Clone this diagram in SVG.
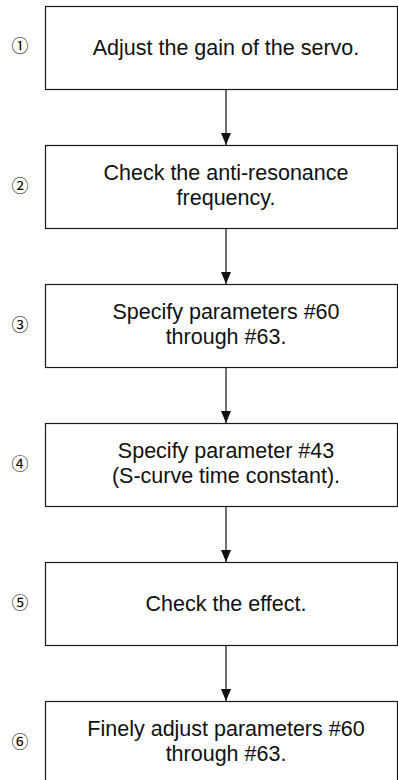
<svg xmlns="http://www.w3.org/2000/svg" width="398" height="780" viewBox="0 0 398 780">
<defs>
<style>
.box{fill:#fff;stroke:#1a1a1a;stroke-width:1.2}
.t{font-family:"Liberation Sans",Arial,sans-serif;font-size:21.5px;fill:#111;text-anchor:middle}
.n{font-family:"Noto Sans CJK JP","DejaVu Sans",sans-serif;font-size:17px;font-weight:400;fill:#000;text-anchor:middle}
.c{stroke:#111;stroke-width:1.2;fill:none}
</style>
<marker id="ah" markerWidth="12" markerHeight="10" refX="12" refY="5" orient="auto" markerUnits="userSpaceOnUse" viewBox="0 0 12 10">
<path d="M0,0 L12,5 L0,10 Z" fill="#111"/>
</marker>
</defs>
<rect width="398" height="780" fill="#fff"/>
<g id="step1">
<text class="n" x="20" y="52">①</text>
<rect class="box" x="45.5" y="6.5" width="352" height="83"/>
<text class="t" x="226" y="55">Adjust the gain of the servo.</text>
</g>
<g id="step2">
<text class="n" x="20" y="192">②</text>
<rect class="box" x="45.5" y="145.5" width="352" height="83"/>
<text class="t" x="226" y="180">Check the anti-resonance</text>
<text class="t" x="226" y="205">frequency.</text>
</g>
<g id="step3">
<text class="n" x="20" y="331">③</text>
<rect class="box" x="45.5" y="284.5" width="352" height="83"/>
<text class="t" x="226" y="319">Specify parameters #60</text>
<text class="t" x="226" y="344">through #63.</text>
</g>
<g id="step4">
<text class="n" x="20" y="470">④</text>
<rect class="box" x="45.5" y="423.5" width="352" height="83"/>
<text class="t" x="226" y="458">Specify parameter #43</text>
<text class="t" x="226" y="483">(S-curve time constant).</text>
</g>
<g id="step5">
<text class="n" x="20" y="609">⑤</text>
<rect class="box" x="45.5" y="562.5" width="352" height="83"/>
<text class="t" x="226" y="611">Check the effect.</text>
</g>
<g id="step6">
<text class="n" x="20" y="748">⑥</text>
<rect class="box" x="45.5" y="701.5" width="352" height="83"/>
<text class="t" x="226" y="736">Finely adjust parameters #60</text>
<text class="t" x="226" y="761">through #63.</text>
</g>
<g id="connectors">
<line class="c" x1="226" y1="89.5" x2="226" y2="145" marker-end="url(#ah)"/>
<line class="c" x1="226" y1="228.5" x2="226" y2="284" marker-end="url(#ah)"/>
<line class="c" x1="226" y1="367.5" x2="226" y2="423" marker-end="url(#ah)"/>
<line class="c" x1="226" y1="506.5" x2="226" y2="562" marker-end="url(#ah)"/>
<line class="c" x1="226" y1="645.5" x2="226" y2="701" marker-end="url(#ah)"/>
</g>
</svg>
